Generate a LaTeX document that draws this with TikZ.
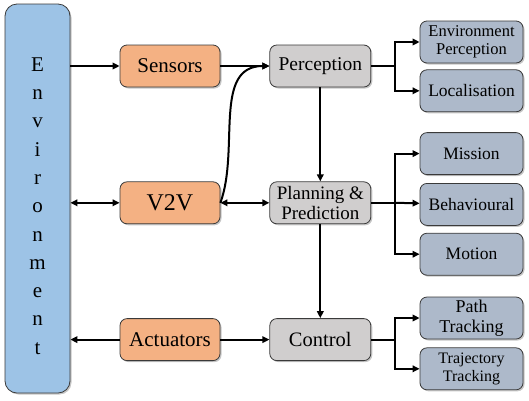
\documentclass[tikz,border=0pt]{standalone}
\usepackage{fontspec}
\setmainfont{Liberation Serif}
\usetikzlibrary{positioning,arrows.meta,shadows}
\definecolor{envblue}{HTML}{9DC3E6}
\definecolor{hworange}{HTML}{F4B183}
\definecolor{swgray}{HTML}{D0CECE}
\definecolor{subblue}{HTML}{ADB9CA}
\definecolor{edgegray}{HTML}{3A3A3A}

\begin{document}
\begin{tikzpicture}[x=1pt,y=-1pt,
                box/.style={
                  draw=edgegray, line width=0.8pt, rounded corners=7pt,
                  minimum width=100pt, minimum height=42pt, align=center,
                  inner sep=1pt, font=\fontsize{21}{22}\selectfont,
                  drop shadow={shadow xshift=1.5pt,shadow yshift=-1.5pt,opacity=0.45}
                },
                hwbox/.style={box, fill=hworange},
                swbox/.style={box, fill=swgray, minimum width=101pt},
                subbox/.style={box, fill=subblue, minimum width=103pt,
                  font=\fontsize{17.5}{19}\selectfont},
                arr/.style={-{Triangle[length=7pt,width=6.5pt]}, line width=2pt},
                darr/.style={{Triangle[length=7pt,width=6.5pt]}-{Triangle[length=7pt,width=6.5pt]}, line width=2pt}
                ]
  \useasboundingbox (0,0) rectangle (529,400);

  % environment column
  \node [box, fill=envblue, minimum width=65pt, minimum height=389pt,
         rounded corners=12pt] (env) at (37.5,198.5) {};
  \node [font=\fontsize{21}{28.3}\selectfont, align=center]
        at ([yshift=-7.5pt]env.center) {E\\n\\v\\i\\r\\o\\n\\m\\e\\n\\t};

  % hardware side
  \node [hwbox] (sens) at (170,66) {Sensors};
  \node [hwbox, below=94pt of sens, font=\fontsize{24}{25}\selectfont] (v2v) {V2V};
  \node [hwbox, below=94pt of v2v] (act) {Actuators};

  % software side
  \node [swbox, right=49pt of sens, font=\fontsize{19.5}{21}\selectfont] (perc) {Perception};
  \node [swbox, right=49pt of v2v, font=\fontsize{19}{19.5}\selectfont] (plan) {Planning \&\\Prediction};
  \node [swbox, right=49pt of act, font=\fontsize{20.5}{22}\selectfont] (ctrl) {Control};

  % sub tasks
  \node [subbox, font=\fontsize{16.5}{18.5}\selectfont] (envp) at (471.5,42) {Environment\\Perception};
  \node [subbox, below=6pt of envp] (loc) {Localisation};
  \node [subbox, below=20pt of loc] (miss) {Mission};
  \node [subbox, below=8pt of miss] (beh) {Behavioural};
  \node [subbox, below=7pt of beh] (mot) {Motion};
  \node [subbox, below=21pt of mot, font=\fontsize{18}{20}\selectfont] (path) {Path\\Tracking};
  \node [subbox, below=8pt of path, font=\fontsize{16}{18}\selectfont] (traj) {Trajectory\\Tracking};

  \draw [arr] (env.east |- sens) -- (sens);
  \draw [darr] (env.east |- v2v) -- (v2v);
  \draw [arr] (act) -- (env.east |- act);
  \draw [arr] (sens) -- (perc);
  \draw [darr] (v2v) -- (plan);
  \draw [arr] (act) -- (ctrl);
  \draw [arr] (v2v.east) to[out=70, in=180] (perc.west);
  \draw [arr] (perc) -- (plan);
  \draw [arr] (plan) -- (ctrl);

  \draw [arr] (perc.east) -- ++(24,0) coordinate (pb) |- (envp);
  \draw [arr] (pb) |- (loc);
  \draw [arr] (plan.east) -- ++(24,0) coordinate (qb) |- (miss);
  \draw [arr] (qb) -- (beh);
  \draw [arr] (qb) |- (mot);
  \draw [arr] (ctrl.east) -- ++(24,0) coordinate (cb) |- (path);
  \draw [arr] (cb) |- (traj);
\end{tikzpicture}
\end{document}
